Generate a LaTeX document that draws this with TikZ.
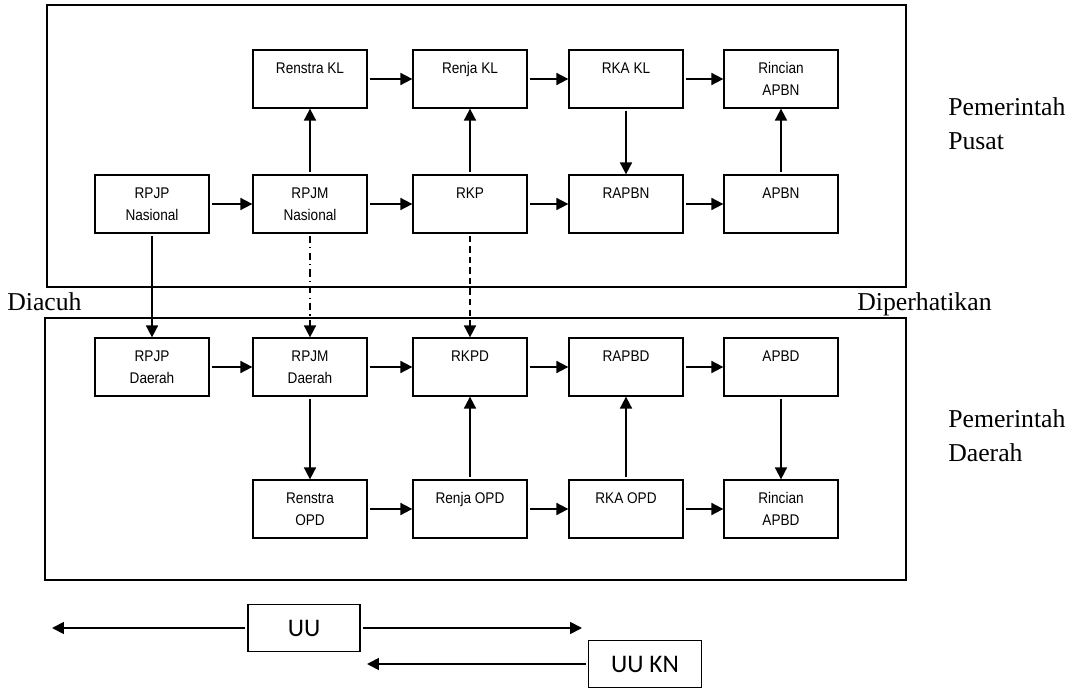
\documentclass[tikz,border=0pt]{standalone}
\usepackage{fontspec}
\setmainfont{Liberation Serif}
\newfontfamily\boxfont[FakeStretch=0.88]{Liberation Sans}
\newfontfamily\uufont{Carlito}
\usetikzlibrary{arrows.meta}

\begin{document}
\begin{tikzpicture}[x=0.025cm, y=-0.025cm,
    blok/.style={draw, line width=0.9pt, minimum width=2.85cm, minimum height=1.45cm,
        inner sep=0pt, align=center, font=\boxfont\fontsize{11}{15.5}\selectfont},
    uublok/.style={draw, line width=0.9pt, minimum width=2.8cm, minimum height=1.18cm,
        inner sep=0pt, font=\uufont\fontsize{18}{20}\selectfont},
    panah/.style={line width=1.3pt, -{Triangle[length=8.5pt, width=8.5pt]}, shorten <=1.5pt},
    judul/.style={font=\fontsize{18.3}{24}\selectfont, align=left, anchor=west, inner sep=0pt}]
    \useasboundingbox (0,0) rectangle (1072,688);

    % bingkai pusat dan daerah
    \draw[line width=0.9pt] (47,5) rectangle (906,287);
    \draw[line width=0.9pt] (45,318) rectangle (906,580);

    % pemerintah pusat
    \node[blok] (renstraKL) at (310, 79) {Renstra KL\\\mbox{}};
    \node[blok] (renjaKL) at (470, 79) {Renja KL\\\mbox{}};
    \node[blok] (rkaKL) at (626, 79) {RKA KL\\\mbox{}};
    \node[blok] (rincianAPBN) at (781, 79) {Rincian\\APBN};
    \node[blok] (rpjpN) at (152, 204) {RPJP\\Nasional};
    \node[blok] (rpjmN) at (310, 204) {RPJM\\Nasional};
    \node[blok] (rkp) at (470, 204) {RKP\\\mbox{}};
    \node[blok] (rapbn) at (626, 204) {RAPBN\\\mbox{}};
    \node[blok] (apbn) at (781, 204) {APBN\\\mbox{}};

    % pemerintah daerah
    \node[blok] (rpjpD) at (152, 367) {RPJP\\Daerah};
    \node[blok] (rpjmD) at (310, 367) {RPJM\\Daerah};
    \node[blok] (rkpd) at (470, 367) {RKPD\\\mbox{}};
    \node[blok] (rapbd) at (626, 367) {RAPBD\\\mbox{}};
    \node[blok] (apbd) at (781, 367) {APBD\\\mbox{}};
    \node[blok] (renstraOPD) at (310, 509) {Renstra\\OPD};
    \node[blok] (renjaOPD) at (470, 509) {Renja OPD\\\mbox{}};
    \node[blok] (rkaOPD) at (626, 509) {RKA OPD\\\mbox{}};
    \node[blok] (rincianAPBD) at (781, 509) {Rincian\\APBD};

    % keterangan
    \node[judul] (pusat) at (948, 124) {Pemerintah\\Pusat};
    \node[judul] (daerah) at (948, 436) {Pemerintah\\Daerah};
    \node[judul, anchor=base west] (diacuh) at (7, 311) {Diacuh};
    \node[judul, anchor=base west] (diperhatikan) at (857, 311) {Diperhatikan};

    % undang-undang
    \node[uublok] (uu) at (304, 628) {UU};
    \node[uublok, minimum width=2.83cm] (uukn) at (645, 664) {UU KN};
    \coordinate (kiriUU) at (52, 628);
    \coordinate (kananUU) at (582, 628);
    \coordinate (kiriUUKN) at (367, 664);

    % alur pusat
    \draw[panah] (renstraKL) -- (renjaKL);
    \draw[panah] (renjaKL) -- (rkaKL);
    \draw[panah] (rkaKL) -- (rincianAPBN);
    \draw[panah] (rpjpN) -- (rpjmN);
    \draw[panah] (rpjmN) -- (rkp);
    \draw[panah] (rkp) -- (rapbn);
    \draw[panah] (rapbn) -- (apbn);
    \draw[panah] (rpjmN) -- (renstraKL);
    \draw[panah] (rkp) -- (renjaKL);
    \draw[panah] (rkaKL) -- (rapbn);
    \draw[panah] (apbn) -- (rincianAPBN);

    % pusat ke daerah
    \draw[panah] (rpjpN) -- (rpjpD);
    \draw[panah, dash pattern=on 5pt off 3pt on 1pt off 3pt] (rpjmN) -- (rpjmD);
    \draw[panah, dash pattern=on 4.5pt off 3pt] (rkp) -- (rkpd);

    % alur daerah
    \draw[panah] (rpjpD) -- (rpjmD);
    \draw[panah] (rpjmD) -- (rkpd);
    \draw[panah] (rkpd) -- (rapbd);
    \draw[panah] (rapbd) -- (apbd);
    \draw[panah] (rpjmD) -- (renstraOPD);
    \draw[panah] (renstraOPD) -- (renjaOPD);
    \draw[panah] (renjaOPD) -- (rkaOPD);
    \draw[panah] (rkaOPD) -- (rincianAPBD);
    \draw[panah] (renjaOPD) -- (rkpd);
    \draw[panah] (rkaOPD) -- (rapbd);
    \draw[panah] (apbd) -- (rincianAPBD);

    % arah undang-undang
    \draw[panah] (uu) -- (kiriUU);
    \draw[panah] (uu) -- (kananUU);
    \draw[panah] (uukn) -- (kiriUUKN);
\end{tikzpicture}
\end{document}
